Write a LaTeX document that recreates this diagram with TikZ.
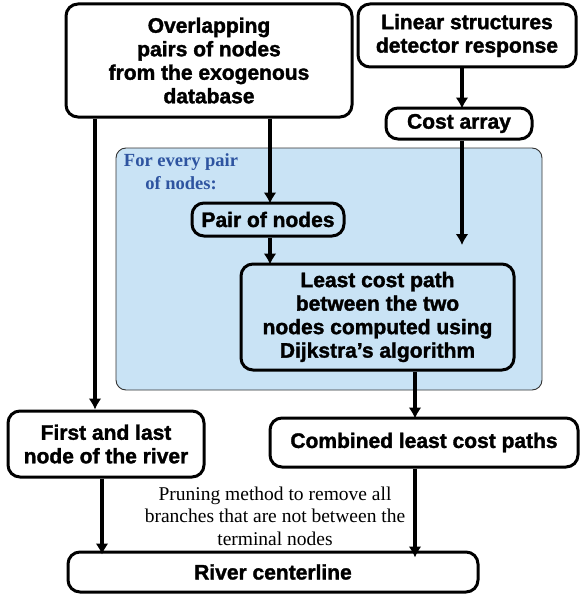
\documentclass[tikz,border=0pt]{standalone}
\usepackage{fontspec}
\setmainfont{Liberation Serif}
\setsansfont{Liberation Sans}[BoldFeatures={FakeBold=1.6}]
\usetikzlibrary{positioning}
\usetikzlibrary{arrows.meta}
\definecolor{panelblue}{RGB}{201,227,245}
\definecolor{labelblue}{RGB}{46,84,160}

\begin{document}
\begin{tikzpicture}[x=1pt,y=-1pt,>={Latex[length=11pt,width=13pt]},
	box/.style={draw,line width=3pt,rounded corners=12pt,align=center,inner sep=0pt,font=\sffamily\bfseries\fontsize{21}{23.5}\selectfont},
	panel/.style={draw=black!80,line width=0.9pt,fill=panelblue,rounded corners=10pt,inner sep=0pt},
	note/.style={align=center,font=\fontsize{19.5}{22.5}\selectfont},
	flow/.style={->,line width=3.4pt},
	]

	\useasboundingbox (0,0) rectangle (579,594);

	\node[panel,minimum width=426pt,minimum height=242pt] (loop) at (329,269) {};
	\node[note,font=\bfseries\fontsize{18.5}{23}\selectfont,text=labelblue] (looplabel) at (181,172) {For every pair\\of nodes:};

	\node[box,minimum width=286pt,minimum height=113pt] (over) at (209,60.5) {Overlapping\\pairs of nodes\\from the exogenous\\database};
	\node[box,minimum width=218pt,minimum height=63pt] (linear) at (467,35.5) {Linear structures\\detector response};
	\node[box,minimum width=146pt,minimum height=31pt] (cost) at (459,123.5) {Cost array};
	\coordinate (costend) at (462,245);
	\node[box,minimum width=152pt,minimum height=33pt] (pair) at (268,219.5) {Pair of nodes};
	\node[box,minimum width=273pt,minimum height=106pt] (least) at (377.5,317) {Least cost path\\between the two\\nodes computed using\\Dijkstra’s algorithm};
	\node[box,minimum width=196pt,minimum height=66pt] (first) at (106,444) {First and last\\node of the river};
	\node[box,minimum width=308pt,minimum height=49pt] (comb) at (424,442.5) {Combined least cost paths};
	\node[box,minimum width=410pt,minimum height=40pt] (river) at (273,572) {River centerline};
	\node[note] (prune) at (275,516) {Pruning method to remove all\\branches that are not between the\\terminal nodes};

	\draw[flow] ([xshift=-114pt]over.south) to ([xshift=-11pt]first.north);
	\draw[flow] ([xshift=61pt]over.south) to ([xshift=2pt,yshift=-2pt]pair.north);
	\draw[flow] ([xshift=-5pt]linear.south) to ([xshift=3pt,yshift=-2pt]cost.north);
	\draw[flow] ([xshift=3pt]cost.south) to (costend);
	\draw[flow] ([xshift=2pt]pair.south) to ([xshift=-107.5pt,yshift=-2pt]least.north);
	\draw[flow] ([xshift=37.5pt]least.south) to ([xshift=-9pt,yshift=-2pt]comb.north);
	\draw[flow] ([xshift=-4pt]first.south) to ([xshift=-171pt,yshift=-4pt]river.north);
	\draw[flow] ([xshift=-9pt]comb.south) to ([xshift=142pt,yshift=-7pt]river.north);

\end{tikzpicture}
\end{document}
